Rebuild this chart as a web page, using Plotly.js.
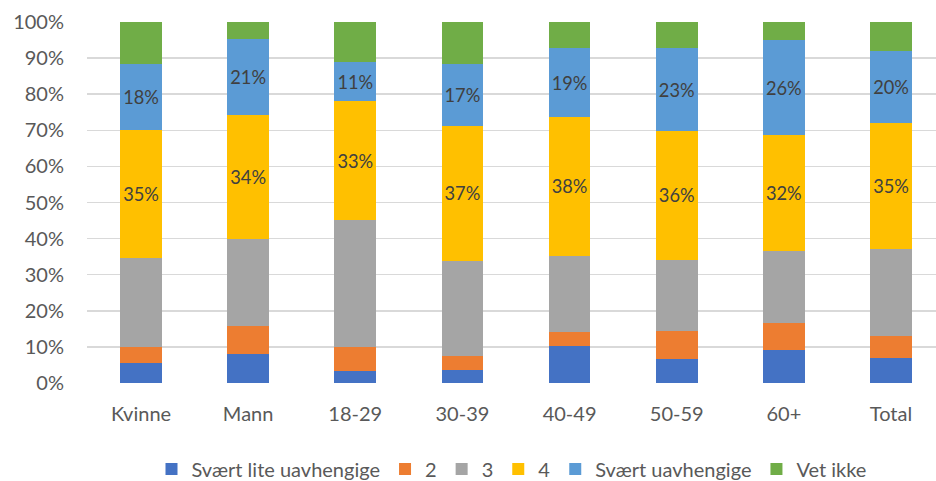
<!DOCTYPE html>
<html>
<head>
<meta charset="utf-8">
<script src="https://cdn.plot.ly/plotly-3.0.1.min.js"></script>
<style>html,body{margin:0;padding:0;background:#fff;}#chart{width:936px;height:481px;}</style>
</head>
<body>
<div id="chart"></div>
<script>
const categories = ["Kvinne", "Mann", "18-29", "30-39", "40-49", "50-59", "60+", "Total"];
const seriesNames = ["Svært lite uavhengige", "2", "3", "4", "Svært uavhengige", "Vet ikke"];
const sLite   = [5.5, 8.1, 3.2, 3.7, 10.3, 6.6, 9.2, 6.9];
const s2      = [4.5, 7.6, 6.8, 3.7, 3.9, 7.9, 7.3, 6.1];
const s3      = [24.6, 24.2, 35.2, 26.5, 21.1, 19.7, 20.0, 24.2];
const s4      = [35.4, 34.4, 32.9, 37.3, 38.4, 35.6, 32.2, 34.8];
const sUavh   = [18.4, 21.1, 10.9, 17.1, 19.0, 23.0, 26.4, 20.1];
const sVet    = [11.6, 4.6, 11.0, 11.7, 7.3, 7.2, 4.9, 7.9];
const colors = ["#4472C4", "#ED7D31", "#A5A5A5", "#FFC000", "#5B9BD5", "#70AD47"];
const showLabels = [false, false, false, true, true, false];
const allSeries = [sLite, s2, s3, s4, sUavh, sVet];

const font = "Lato, 'Open Sans', sans-serif";
const traces = allSeries.map((vals, i) => ({
  type: "bar",
  name: seriesNames[i],
  x: categories,
  y: vals,
  marker: {color: colors[i], line: {width: 0}},
  texttemplate: showLabels[i] ? "%{y:.0f}%" : "",
  textposition: showLabels[i] ? "inside" : "none",
  insidetextanchor: "middle",
  textangle: 0,
  textfont: {family: font, size: 19, color: "#404040"},
  hoverinfo: "none"
}));

const layout = {
  width: 936, height: 481,
  barmode: "stack",
  bargap: 0.61,
  paper_bgcolor: "#fff",
  plot_bgcolor: "#fff",
  margin: {l: 87, r: 0, t: 22, b: 98},
  font: {family: font, color: "#595959", size: 19},
  xaxis: {
    range: [-0.504, 7.42],
    showgrid: false, zeroline: false, showline: false,
    ticks: "",
    ticklabelstandoff: 17,
    tickfont: {family: font, size: 20, color: "#595959"}
  },
  yaxis: {
    range: [0, 100],
    dtick: 10,
    ticksuffix: "%",
    showgrid: true, gridcolor: "#D9D9D9", gridwidth: 1.5,
    zeroline: false, showline: false, ticks: "",
    ticklabelstandoff: 22,
    tickfont: {family: font, size: 20, color: "#595959"}
  },
  showlegend: true,
  legend: {
    orientation: "h",
    x: 0.5, xanchor: "center",
    yref: "container", y: 0.025, yanchor: "middle",
    traceorder: "normal",
    font: {family: font, size: 20, color: "#595959"},
    itemwidth: 30,
    itemsizing: "constant"
  }
};

Plotly.newPlot("chart", traces, layout, {displayModeBar: false, staticPlot: true});
</script>
</body>
</html>
